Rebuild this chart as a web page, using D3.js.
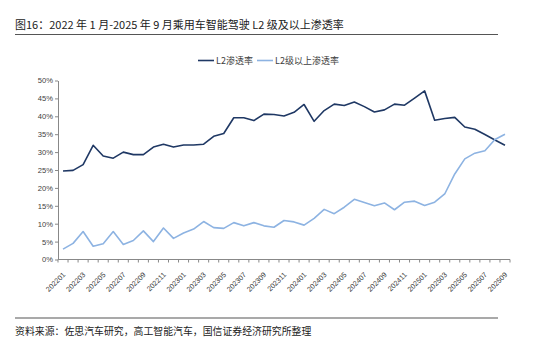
<!DOCTYPE html>
<html>
<head>
<meta charset="utf-8">
<script src="https://cdn.jsdelivr.net/npm/d3@7"></script>
<style>
  body { margin: 0; background: #fff; }
  svg { display: block; }
</style>
</head>
<body>
<div id="chart"></div>
<script>
// 月份 2022-01 ~ 2025-09
const months = [];
for (let y = 2022; y <= 2025; y++) {
  for (let m = 1; m <= 12; m++) {
    if (y === 2025 && m > 9) break;
    months.push(String(y) + String(m).padStart(2, '0'));
  }
}

// L2 渗透率 (%)
const l2Rate = [
  24.7, 24.9, 26.5, 31.9, 28.9, 28.3, 30.0, 29.3, 29.3, 31.4,
  32.2, 31.4, 32.0, 32.0, 32.2, 34.4, 35.2, 39.6, 39.6, 38.8,
  40.6, 40.5, 40.1, 41.1, 43.3, 38.6, 41.6, 43.4, 43.0, 44.0,
  42.7, 41.2, 41.8, 43.4, 43.1, 45.1, 47.1, 38.9, 39.4, 39.7,
  37.0, 36.4, 34.9, 33.4, 31.9
];

// L2级以上渗透率 (%)
const l2PlusRate = [
  2.9, 4.5, 7.8, 3.7, 4.4, 7.8, 4.2, 5.3, 8.0, 5.0,
  8.8, 5.9, 7.4, 8.5, 10.6, 8.9, 8.7, 10.3, 9.4, 10.3,
  9.4, 9.0, 10.9, 10.5, 9.6, 11.5, 14.0, 12.8, 14.6, 16.8,
  15.9, 15.0, 15.8, 13.9, 16.0, 16.3, 15.1, 16.0, 18.3, 23.9,
  28.1, 29.7, 30.4, 33.5, 35.0
];

const yTicks = [0, 5, 10, 15, 20, 25, 30, 35, 40, 45, 50];

const seriesNames = ['L2渗透率', 'L2级以上渗透率'];
const seriesColors = ['#1f3864', '#8db3e2'];

const W = 550, H = 338;
const plot = { left: 58, right: 510, top: 80.5, bottom: 259.5 };

const cjk = '"Noto Sans CJK SC", "Liberation Sans", sans-serif';
const latin = '"Liberation Sans", Arial, sans-serif';

const svg = d3.select('#chart').append('svg')
  .attr('width', W)
  .attr('height', H);

// 标题
svg.append('text')
  .attr('x', 15)
  .attr('y', 28.5)
  .style('font-family', cjk)
  .style('font-size', '11px')
  .style('fill', '#222')
  .text('图16：2022 年 1 月-2025 年 9 月乘用车智能驾驶 L2 级及以上渗透率');

svg.append('line')
  .attr('x1', 15).attr('x2', 498)
  .attr('y1', 34.5).attr('y2', 34.5)
  .attr('stroke', '#555')
  .attr('stroke-width', 1.2);

// 比例尺
const x = d3.scaleBand()
  .domain(months)
  .range([plot.left, plot.right]);

const y = d3.scaleLinear()
  .domain([0, 50])
  .range([plot.bottom, plot.top]);

const cx = d => x(d) + x.bandwidth() / 2;

// y 轴
const yAxis = svg.append('g')
  .attr('transform', `translate(${plot.left},0)`)
  .call(d3.axisLeft(y).tickValues(yTicks).tickSize(3).tickSizeOuter(0)
    .tickFormat(d => d + '%'));
yAxis.select('.domain').attr('stroke', '#888');
yAxis.selectAll('.tick line').attr('stroke', '#888');
yAxis.selectAll('text')
  .attr('x', -5)
  .style('font-family', latin)
  .style('font-size', '7.6px')
  .style('fill', '#404040');

// x 轴（刻度在类别之间）
const xAxisG = svg.append('g');
xAxisG.append('line')
  .attr('x1', plot.left).attr('x2', plot.right)
  .attr('y1', plot.bottom).attr('y2', plot.bottom)
  .attr('stroke', '#888');
const bounds = months.map(m => x(m)).concat([x(months[months.length - 1]) + x.bandwidth()]);
xAxisG.selectAll('.xtick')
  .data(bounds)
  .enter().append('line')
  .attr('class', 'xtick')
  .attr('x1', d => d).attr('x2', d => d)
  .attr('y1', plot.bottom).attr('y2', plot.bottom + 3)
  .attr('stroke', '#888');

xAxisG.selectAll('.xlabel')
  .data(months.filter((m, i) => i % 2 === 0))
  .enter().append('text')
  .attr('class', 'xlabel')
  .attr('transform', d => `translate(${cx(d) + 1},${plot.bottom + 14}) rotate(-45)`)
  .attr('text-anchor', 'end')
  .attr('dy', '0.35em')
  .style('font-family', latin)
  .style('font-size', '7.2px')
  .style('fill', '#404040')
  .text(d => d);

// 折线
const line = d3.line()
  .x(d => cx(d.month))
  .y(d => y(d.value));

[l2Rate, l2PlusRate].forEach((vals, k) => {
  const pts = months.map((m, i) => ({ month: m, value: vals[i] }));
  svg.append('path')
    .datum(pts)
    .attr('d', line)
    .attr('fill', 'none')
    .attr('stroke', seriesColors[k])
    .attr('stroke-width', 1.6)
    .attr('stroke-linejoin', 'round');
});

// 图例
const legendX = [198, 257];
const legend = svg.append('g');
seriesNames.forEach((name, k) => {
  legend.append('line')
    .attr('x1', legendX[k]).attr('x2', legendX[k] + 16)
    .attr('y1', 60.5).attr('y2', 60.5)
    .attr('stroke', seriesColors[k])
    .attr('stroke-width', 1.6);
  legend.append('text')
    .attr('x', legendX[k] + 18)
    .attr('y', 60.5)
    .attr('dy', '0.35em')
    .style('font-family', cjk)
    .style('font-size', '9px')
    .style('fill', '#404040')
    .text(name);
});

// 资料来源
svg.append('line')
  .attr('x1', 15).attr('x2', 498)
  .attr('y1', 318).attr('y2', 318)
  .attr('stroke', '#555')
  .attr('stroke-width', 1.2);

svg.append('text')
  .attr('x', 15)
  .attr('y', 334.5)
  .style('font-family', cjk)
  .style('font-size', '9.9px')
  .style('fill', '#222')
  .text('资料来源：佐思汽车研究，高工智能汽车，国信证券经济研究所整理');
</script>
</body>
</html>
